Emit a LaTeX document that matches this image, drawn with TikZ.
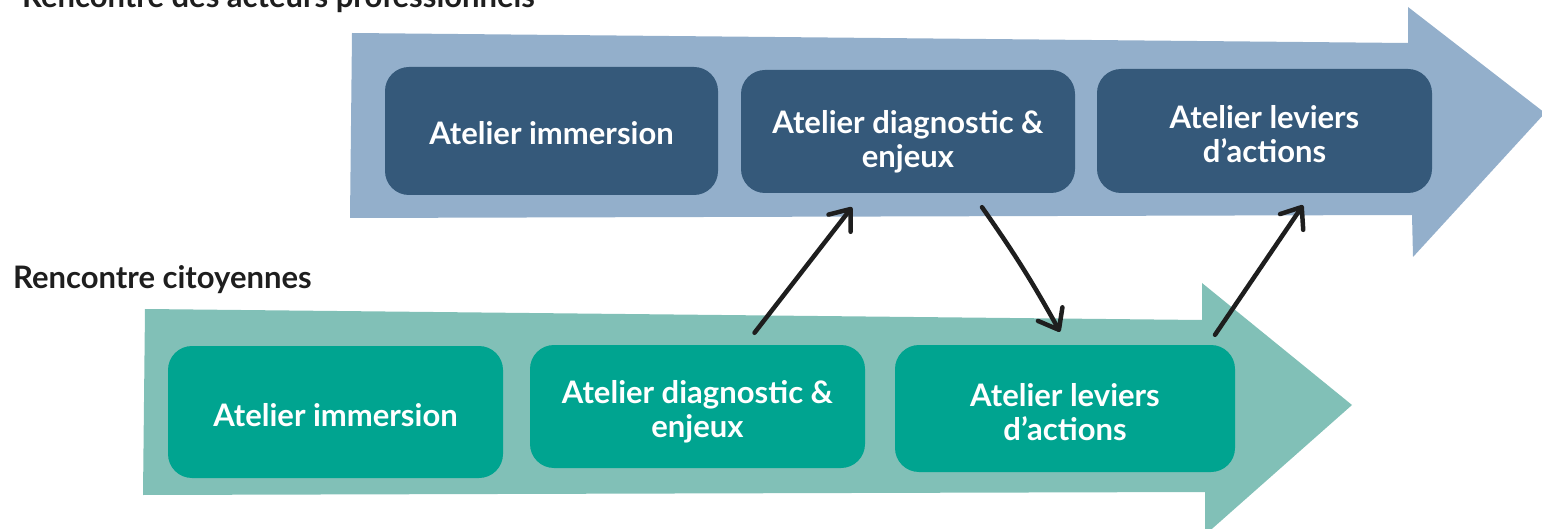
\documentclass[tikz,border=0pt]{standalone}
\usepackage{fontspec}
\setmainfont{Lato}
\usetikzlibrary{arrows.meta,calc}
\definecolor{proLight}{HTML}{93AFCB}
\definecolor{proDark}{HTML}{35597A}
\definecolor{citLight}{HTML}{81C0B7}
\definecolor{citDark}{HTML}{00A490}
\definecolor{ink}{HTML}{1E1E1E}
\begin{document}
\begin{tikzpicture}[x=1pt,y=-1pt,
  box/.style={rounded corners=24pt, inner sep=0pt},
  boxtext/.style={align=center, text=white, inner sep=0pt,
    font=\fontsize{31}{34}\selectfont\bfseries},
  probox/.style={box, fill=proDark},
  citbox/.style={box, fill=citDark},
  link/.style={draw=ink, line width=4.5pt, line cap=round, line join=round,
    -{Straight Barb[length=18pt,width=28pt,line width=4.5pt,round]}},
  heading/.style={anchor=base west, font=\fontsize{31}{34}\selectfont\bfseries, text=ink, inner sep=0pt}]
\useasboundingbox (0,0) rectangle (1542,529);
% big arrows
\fill[proLight] (352,33) -- (1408,43) -- (1408,7) -- (1545,113) -- (1413,257) -- (1412,215) -- (350,218) -- cycle;
\fill[citLight] (145,309) -- (1202,320) -- (1202,283) -- (1352,405) -- (1205,535) -- (1205,492) -- (143,495) -- cycle;
% headings
\node[heading] (hpro) at (22,8) {Rencontre des acteurs professionnels};
\node[heading] (hcit) at (13,289) {Rencontre citoyennes};
% top boxes
\node[probox, minimum width=333pt, minimum height=128pt,
  label={[boxtext,yshift=-2pt]center:{Atelier immersion}}] (p1) at (551.5,131) {};
\node[probox, minimum width=334pt, minimum height=123pt,
  label={[boxtext,yshift=-10pt]center:{Atelier diagnostic \&\\enjeux}}] (p2) at (908,131.5) {};
\node[probox, minimum width=335pt, minimum height=124pt,
  label={[boxtext,yshift=-3pt]center:{Atelier leviers\\d’actions}}] (p3) at (1264.5,131) {};
% bottom boxes
\node[citbox, minimum width=335pt, minimum height=132pt,
  label={[boxtext,yshift=-3pt]center:{Atelier immersion}}] (c1) at (335.5,412) {};
\node[citbox, minimum width=335pt, minimum height=123pt,
  label={[boxtext,yshift=-5pt]center:{Atelier diagnostic \&\\enjeux}}] (c2) at (697.5,406.5) {};
\node[citbox, minimum width=340pt, minimum height=127pt,
  label={[boxtext,yshift=-4pt]center:{Atelier leviers\\d’actions}}] (c3) at (1065,408.5) {};
% connectors
\draw[link] ([xshift=57pt,yshift=12pt]c2.north) -- ([xshift=-56pt,yshift=-14pt]p2.south);
\draw[link] ([xshift=74pt,yshift=-14pt]p2.south) to[bend left=3] ([xshift=-5pt,yshift=13pt]c3.north);
\draw[link] ([xshift=150pt,yshift=10pt]c3.north) -- ([xshift=38.5pt,yshift=-12pt]p3.south);
\end{tikzpicture}
\end{document}
